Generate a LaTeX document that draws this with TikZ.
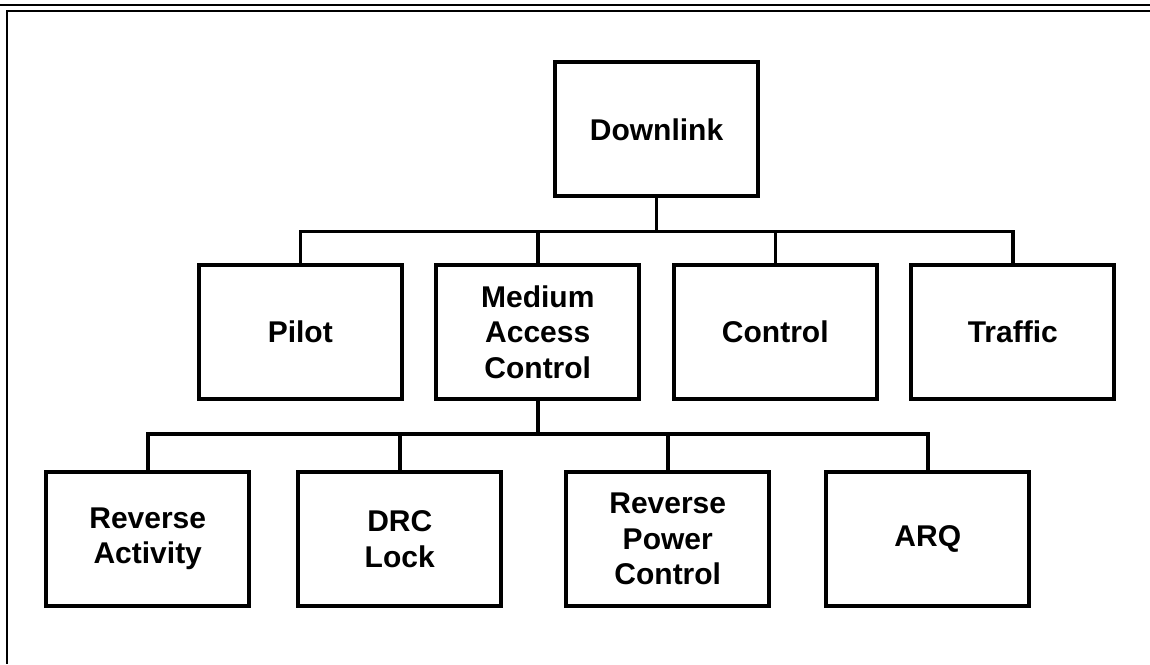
\documentclass[tikz,border=0pt]{standalone}
\usepackage{fontspec}
\setmainfont{Liberation Sans}
\begin{document}
\begin{tikzpicture}[
            x=1pt, y=1pt,
            every node/.style={draw, line width=4pt, minimum width=203pt, minimum height=134pt,
                inner sep=0pt, align=center, font=\bfseries\fontsize{30}{35.5}\selectfont},
            edge from parent/.style={draw, line width=3.5pt},
            edge from parent path={(\tikzparentnode.south) -- +(0,-33pt) -| (\tikzchildnode.north)},
            level 1/.style={level distance=202.5pt, sibling distance=237.5pt},
            level 2/.style={level distance=207pt, sibling distance=260pt}
            ]
        \useasboundingbox (0,0) rectangle (1150,664);
        \draw[line width=1.7pt] (0,659) -- (1150,659);
        \draw[line width=1.7pt] (1150,653) -- (7,653) -- (7,0);
        \node (downlink) at (656.5,534.5) {Downlink}
            child { node (pilot) {Pilot} }
            child { node (mac) {Medium\\Access\\Control}
                child { node (revact) {Reverse\\Activity} }
                child[xshift=-8pt] { node (drclock) {DRC\\Lock} }
                child { node (revpower) {Reverse\\Power\\Control} }
                child { node (arq) {ARQ} }
            }
            child { node (control) {Control} }
            child { node (traffic) {Traffic} };
        \end{tikzpicture}
\end{document}
